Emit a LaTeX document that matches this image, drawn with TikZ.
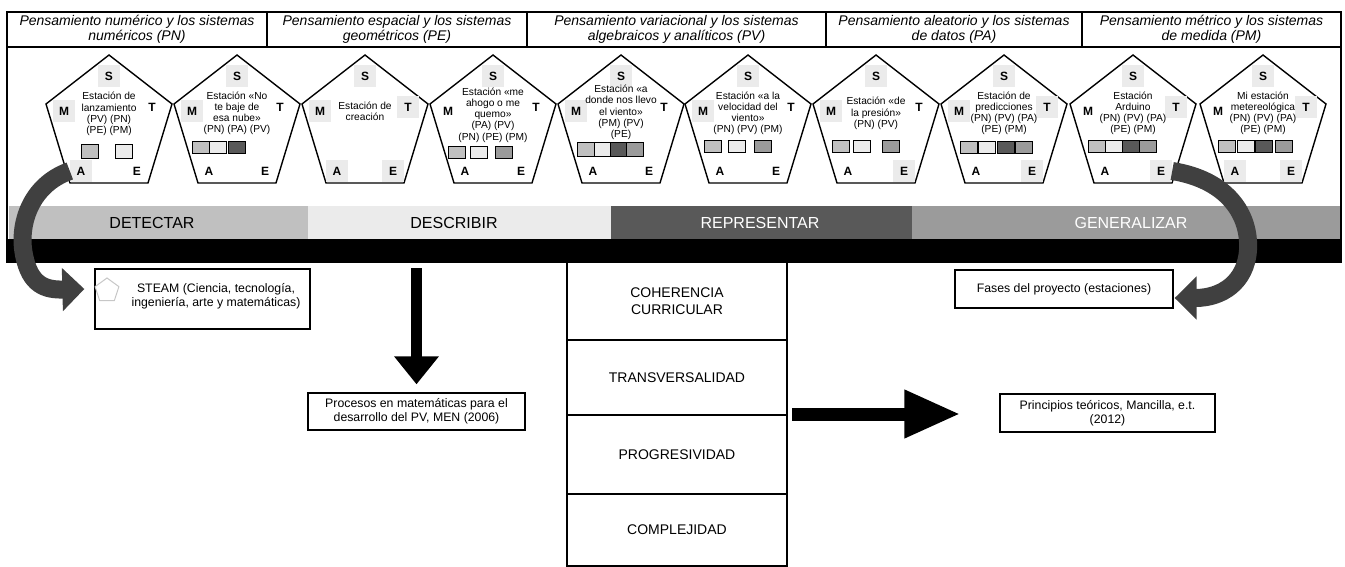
\documentclass[tikz,border=0pt]{standalone}
\usepackage{fontspec}
\setmainfont{Liberation Sans}
\usetikzlibrary{arrows.meta,shapes.geometric,calc}
\definecolor{fase1}{HTML}{C0C0C0}
\definecolor{fase2}{HTML}{EBEBEB}
\definecolor{fase3}{HTML}{595959}
\definecolor{fase4}{HTML}{9B9B9B}
\definecolor{flecha}{HTML}{404040}

\begin{document}
\begin{tikzpicture}[x=1pt,y=1pt,yscale=-1,xscale=1,
  encabezado/.style={font=\itshape\fontsize{14}{15.5}\selectfont, align=center, inner sep=0pt},
  letra/.style={font=\bfseries\fontsize{12}{12}\selectfont, minimum size=22pt, inner sep=0pt},
  estacion/.style={font=\fontsize{10.2}{11.2}\selectfont, align=center, inner sep=0pt},
  muestra/.style={draw, line width=0.7pt, minimum width=17pt, minimum height=12pt, inner sep=0pt},
  banda/.style={font=\fontsize{16}{16}\selectfont, inner sep=0pt},
  caja/.style={draw, line width=1.3pt, align=center, inner sep=0pt, font=\fontsize{12.3}{14}\selectfont},
  principio/.style={draw, line width=1.3pt, align=center, minimum width=220pt, inner sep=0pt, font=\fontsize{14}{17}\selectfont},
  curva/.style={draw=flecha, line width=18pt, -{Triangle[length=22pt,width=42pt]}},
]
\useasboundingbox (0,0) rectangle (1345,567);

%=====Marco y bandas=======
\fill [fase1] (9,206) rectangle (308,239);
\fill [fase2] (308,206) rectangle (611,239);
\fill [fase3] (611,206) rectangle (912,239);
\fill [fase4] (912,206) rectangle (1341,239);
\fill [black] (7,239) rectangle (1341,262);
\draw [line width=1.3] (7,12) rectangle (1341,262);
\draw [line width=1.3] (7,47) -- (1341,47);
\foreach \x in {267,527,826,1082} \draw [line width=1.3] (\x,12) -- (\x,47);

%=====Encabezado=======
\draw (137,29.5) node (pn) [encabezado] {Pensamiento numérico y los sistemas\\numéricos (PN)};
\draw (397,29.5) node (pe) [encabezado] {Pensamiento espacial y los sistemas\\geométricos (PE)};
\draw (676.5,29.5) node (pv) [encabezado] {Pensamiento variacional y los sistemas\\algebraicos y analíticos (PV)};
\draw (954,29.5) node (pa) [encabezado] {Pensamiento aleatorio y los sistemas\\de datos (PA)};
\draw (1211.5,29.5) node (pm) [encabezado] {Pensamiento métrico y los sistemas\\de medida (PM)};

%=====Estaciones=======
\foreach \cx/\nom/\fs/\fm/\ft/\fa/\fe in {
  109/p1/fase2/fase2/none/fase2/none,
  237/p2/fase2/fase2/none/none/none,
  365/p3/fase2/fase2/fase2/fase2/fase2,
  493/p4/fase2/none/none/none/none,
  621/p5/fase2/fase2/none/none/none,
  748/p6/fase2/fase2/none/none/none,
  876/p7/fase2/fase2/none/none/fase2,
  1004/p8/fase2/fase2/fase2/none/fase2,
  1133/p9/fase2/none/fase2/none/fase2,
  1263/p10/fase2/none/fase2/fase2/fase2}{
  \draw [line width=1.4, line join=miter] (\cx,55) -- (\cx+63,104) -- (\cx+39,183) -- (\cx-39,183) -- (\cx-63,104) -- cycle;
  \node [letra, fill=\fs] (\nom-s) at (\cx,76) {S};
  \node [letra, fill=\fm] (\nom-m) at (\cx-45,111) {M};
  \node [letra, fill=\ft] (\nom-t) at (\cx+43,107) {T};
  \node [letra, fill=\fa] (\nom-a) at (\cx-28,171) {A};
  \node [letra, fill=\fe] (\nom-e) at (\cx+28,171) {E};
}

\draw (109,114) node (t1) [estacion] {Estación de\\lanzamiento\\(PV) (PN)\\(PE) (PM)};
\draw (237,113.5) node (t2) [estacion] {Estación «No\\te baje de\\esa nube»\\(PN) (PA) (PV)};
\draw (365,111) node (t3) [estacion] {Estación de\\creación};
\draw (493,115) node (t4) [estacion] {Estación «me\\ahogo o me\\quemo»\\(PA) (PV)\\(PN) (PE) (PM)};
\draw (621,112.5) node (t5) [estacion] {Estación «a\\donde nos llevo\\el viento»\\(PM) (PV)\\(PE)};
\draw (748,113.5) node (t6) [estacion] {Estación «a la\\velocidad del\\viento»\\(PN) (PV) (PM)};
\draw (876,113.5) node (t7) [estacion] {Estación «de\\la presión»\\(PN) (PV)};
\draw (1004,113.5) node (t8) [estacion] {Estación de\\predicciones\\(PN) (PV) (PA)\\(PE) (PM)};
\draw (1133,113.5) node (t9) [estacion] {Estación\\Arduino\\(PN) (PV) (PA)\\(PE) (PM)};
\draw (1263,113.5) node (t10) [estacion] {Mi estación\\metereológica\\(PN) (PV) (PA)\\(PE) (PM)};

%=====Muestras de fase=======
\node [muestra, fill=fase1, minimum height=14pt] (p1-c1) at (90,151) {};
\node [muestra, fill=fase2, minimum height=14pt] (p1-c2) at (124,151) {};
\node [muestra, fill=fase1] (p2-c1) at (201,147) {};
\node [muestra, fill=fase2] (p2-c2) at (218,147) {};
\node [muestra, fill=fase3] (p2-c3) at (237,147) {};
\node [muestra, fill=fase1] (p4-c1) at (457,152) {};
\node [muestra, fill=fase2] (p4-c2) at (479,152) {};
\node [muestra, fill=fase4] (p4-c4) at (504,152) {};
\node [muestra, fill=fase1, minimum height=14pt] (p5-c1) at (586,149) {};
\node [muestra, fill=fase2, minimum height=14pt] (p5-c2) at (603,149) {};
\node [muestra, fill=fase3, minimum height=14pt] (p5-c3) at (619,149) {};
\node [muestra, fill=fase4, minimum height=14pt] (p5-c4) at (635,149) {};
\node [muestra, fill=fase1] (p6-c1) at (713,146) {};
\node [muestra, fill=fase2] (p6-c2) at (737,146) {};
\node [muestra, fill=fase4] (p6-c4) at (763,146) {};
\node [muestra, fill=fase1] (p7-c1) at (841,146) {};
\node [muestra, fill=fase2] (p7-c2) at (862,146) {};
\node [muestra, fill=fase4] (p7-c4) at (891,146) {};
\node [muestra, fill=fase1] (p8-c1) at (969,147) {};
\node [muestra, fill=fase2] (p8-c2) at (987,147) {};
\node [muestra, fill=fase3] (p8-c3) at (1006,147) {};
\node [muestra, fill=fase4] (p8-c4) at (1024,147) {};
\node [muestra, fill=fase1] (p9-c1) at (1097,146) {};
\node [muestra, fill=fase2] (p9-c2) at (1114,146) {};
\node [muestra, fill=fase3] (p9-c3) at (1131,146) {};
\node [muestra, fill=fase4] (p9-c4) at (1148,146) {};
\node [muestra, fill=fase1] (p10-c1) at (1227,146) {};
\node [muestra, fill=fase2] (p10-c2) at (1246,146) {};
\node [muestra, fill=fase3] (p10-c3) at (1264,146) {};
\node [muestra, fill=fase4] (p10-c4) at (1284,146) {};

%=====Fases=======
\draw (152,222.5) node (detectar) [banda] {DETECTAR};
\draw (454,222.5) node (describir) [banda] {DESCRIBIR};
\draw (760,222.5) node (representar) [banda, text=white] {REPRESENTAR};
\draw (1131,222.5) node (generalizar) [banda, text=white] {GENERALIZAR};

%=====Cajas=======
\draw (202.5,299) node (steam) [caja, minimum width=215pt, minimum height=60pt] {};
\draw (107,290.5) node (steamlogo) [regular polygon, regular polygon sides=5, draw=black!22, line width=1pt, minimum size=25pt, inner sep=0pt] {};
\draw (216,296) node (steamtxt) [align=center, inner sep=0pt, font=\fontsize{12.3}{14}\selectfont] {STEAM (Ciencia, tecnología,\\ingeniería, arte y matemáticas)};
\draw (1064,289) node (fases) [caja, minimum width=218pt, minimum height=38pt] {Fases del proyecto (estaciones)};
\draw (416.5,411.5) node (procesos) [caja, minimum width=217pt, minimum height=37pt] {Procesos en matemáticas para el\\desarrollo del PV, MEN (2006)};
\draw (1107.5,413) node (principios) [caja, minimum width=215pt, minimum height=38pt] {Principios teóricos, Mancilla, e.t.\\(2012)};

%=====Principios=======
\draw (677,301) node (coherencia) [principio, minimum height=78pt] {COHERENCIA\\CURRICULAR};
\draw (677,377.5) node (transversalidad) [principio, minimum height=75pt] {TRANSVERSALIDAD};
\draw (677,454.5) node (progresividad) [principio, minimum height=79pt] {PROGRESIVIDAD};
\draw (677,530) node (complejidad) [principio, minimum height=72pt] {COMPLEJIDAD};

%=====Flechas=======
\draw [curva] (p1-a.west) .. controls (30,185) and (18,225) .. (24,255) .. controls (30,285) and (45,290) .. ($(steam.west)+(-10,-10)$);
\draw [curva] (p9-e.east) .. controls (1228,180) and (1250,215) .. (1248,250) .. controls (1246,282) and (1222,298) .. ($(fases.east)+(1,9)$);

\coordinate (bajada) at (416.5,268);
\draw [line width=11, -{Triangle[length=28pt,width=43pt]}, shorten >=8pt] (bajada) -- (procesos.north);
\coordinate (salida) at (792,414);
\draw [line width=13, -{Triangle[length=56pt,width=45pt]}, shorten >=39pt] (salida) -- (salida -| principios.west);

\end{tikzpicture}
\end{document}
